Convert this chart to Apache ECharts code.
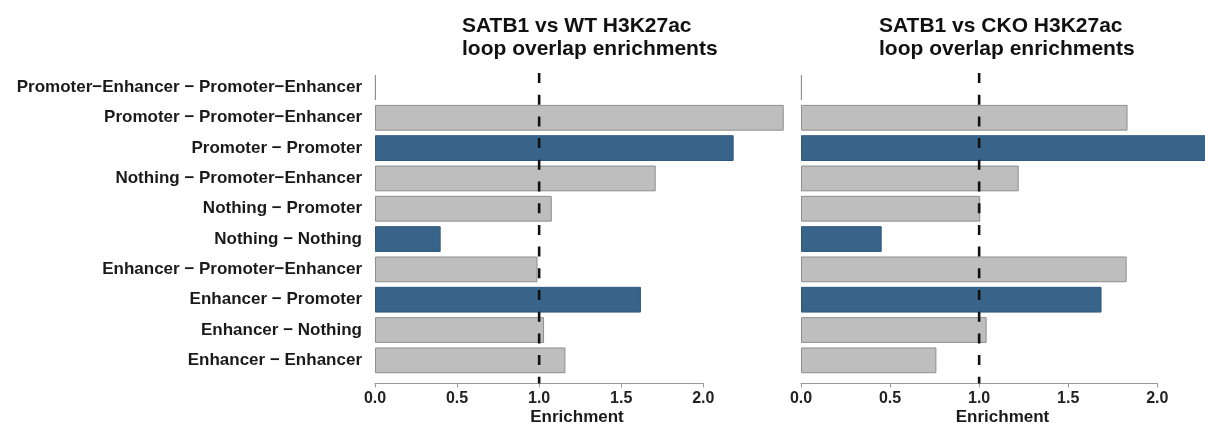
<!DOCTYPE html>
<html>
<head>
<meta charset="utf-8">
<script src="https://cdn.jsdelivr.net/npm/echarts@6/dist/echarts.min.js"></script>
<style>html,body{margin:0;padding:0;background:#fff}#c{width:1205px;height:426px}</style>
</head>
<body>
<div id="c"></div>
<script>
const categories = [
  'Promoter−Enhancer − Promoter−Enhancer',
  'Promoter − Promoter−Enhancer',
  'Promoter − Promoter',
  'Nothing − Promoter−Enhancer',
  'Nothing − Promoter',
  'Nothing − Nothing',
  'Enhancer − Promoter−Enhancer',
  'Enhancer − Promoter',
  'Enhancer − Nothing',
  'Enhancer − Enhancer'
];
const highlighted = ['Promoter − Promoter', 'Nothing − Nothing', 'Enhancer − Promoter'];
const wtValues  = [0.005, 2.49, 2.185, 1.71, 1.077, 0.40, 0.99, 1.62, 1.03, 1.16];
const ckoValues = [0.005, 1.833, 2.35, 1.222, 1.006, 0.453, 1.828, 1.687, 1.042, 0.76];
const xTicks = [0, 0.5, 1.0, 1.5, 2.0];
const refLine = 1.0;
const titles = ['SATB1 vs WT H3K27ac\nloop overlap enrichments', 'SATB1 vs CKO H3K27ac\nloop overlap enrichments'];
const axisTitle = 'Enrichment';

const FONT = 'Liberation Sans, Arial, Helvetica, sans-serif';
const BLUE = '#386489', GRAY = '#bebebe';

function barData(vals) {
  return vals.map((v, i) => {
    const hl = highlighted.includes(categories[i]);
    return {
      value: v,
      itemStyle: hl ? { color: BLUE, borderColor: '#30597f', borderWidth: 1 }
                    : { color: GRAY, borderColor: '#8e8e8e', borderWidth: 1 }
    };
  });
}

// panel geometry (pixels)
const panels = [
  { barLeft: 375, barWidth: 404, unit: 164.15, vals: wtValues, titleLeft: 457 },
  { barLeft: 801, barWidth: 403, unit: 178.15, vals: ckoValues, titleLeft: 874 }
];
const barTop = 72.3, barHeight = 303.2;
const axTop = 73, axBottomY = 383.5;

const grid = [], xAxis = [], yAxis = [], series = [], title = [];
panels.forEach((p, k) => {
  const gb = grid.length;
  grid.push({ left: p.barLeft, top: barTop, width: p.barWidth, height: barHeight, outerBoundsMode: 'none', containLabel: false });
  const ga = grid.length;
  grid.push({ left: p.barLeft, top: axTop, width: p.unit * 2, height: axBottomY - axTop, outerBoundsMode: 'none', containLabel: false });

  xAxis.push({
    gridIndex: gb, type: 'value', min: 0, max: p.barWidth / p.unit,
    axisLine: { show: false }, axisTick: { show: false }, axisLabel: { show: false }, splitLine: { show: false },
    name: axisTitle, nameLocation: 'middle', nameGap: 33,
    nameTextStyle: { fontFamily: FONT, fontSize: 17, fontWeight: 'bold', color: '#1a1a1a' }
  });
  yAxis.push({
    gridIndex: gb, type: 'category', data: categories, inverse: true,
    axisLine: { show: false }, axisTick: { show: false }, splitLine: { show: false },
    axisLabel: k === 0 ? { show: true, margin: 13, fontFamily: FONT, fontSize: 17, fontWeight: 'bold', color: '#1a1a1a' } : { show: false }
  });
  xAxis.push({
    gridIndex: ga, type: 'value', min: 0, max: 2, interval: 0.5,
    axisLine: { show: true, lineStyle: { color: '#9a9a9a', width: 1 } },
    axisTick: { show: true, length: 4, lineStyle: { color: '#9a9a9a' } },
    splitLine: { show: false },
    axisLabel: { margin: 7, fontFamily: FONT, fontSize: 16, fontWeight: 'bold', color: '#222',
      formatter: v => xTicks.includes(v) ? v.toFixed(1) : '' }
  });
  yAxis.push({ gridIndex: ga, type: 'value', min: 0, max: 1, show: false });

  series.push({
    type: 'bar', xAxisIndex: 2 * k, yAxisIndex: 2 * k, data: barData(p.vals),
    barCategoryGap: '15%', clip: false, silent: true, animation: false
  });
  series.push({
    type: 'line', xAxisIndex: 2 * k + 1, yAxisIndex: 2 * k + 1,
    data: [[refLine, 1], [refLine, 0]], symbol: 'none', silent: true, animation: false, z: 5,
    lineStyle: { color: '#111', width: 2.6, type: [10, 11.7] }
  });
  title.push({
    text: titles[k], left: p.titleLeft, top: 10,
    textStyle: { fontFamily: FONT, fontSize: 21, fontWeight: 'bold', color: '#111', lineHeight: 23 }
  });
});

const chart = echarts.init(document.getElementById('c'), null, { renderer: 'canvas' });
chart.setOption({ backgroundColor: '#fff', animation: false, title, grid, xAxis, yAxis, series });
</script>
</body>
</html>
